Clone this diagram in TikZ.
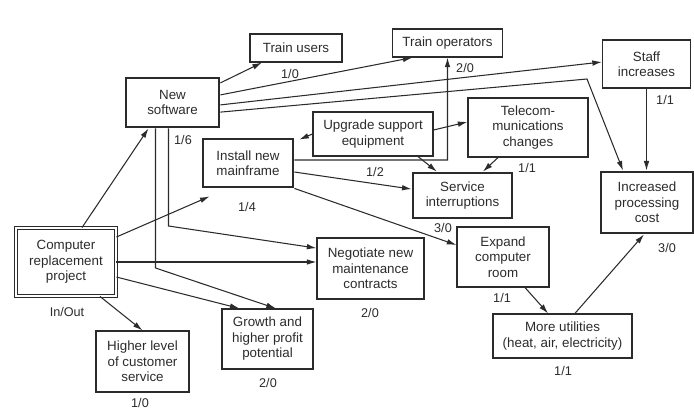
\documentclass[tikz,border=0pt]{standalone}
\usepackage{fontspec}
\setmainfont{Liberation Sans}
\usepackage{tikz}
\usetikzlibrary{positioning,arrows.meta}

\definecolor{inkgray}{HTML}{2B2B2B}

\tikzset{
  task/.style={draw=inkgray, line width=0.8pt, align=center, inner sep=1pt,
    font=\fontsize{9.5}{11}\selectfont, text=inkgray},
  keytask/.style={task, line width=2pt},
  roottask/.style={task, double, double distance=1.3pt, line width=0.6pt},
  tag/.style={font=\fontsize{9}{10}\selectfont, text=inkgray},
  link/.style={draw=inkgray, line width=0.75pt, -{Latex[length=2.4mm,width=1.4mm]}},
}

\begin{document}
\begin{tikzpicture}[x=0.025cm, y=-0.025cm]
\useasboundingbox (0,0) rectangle (694,409);

% activity boxes
\node[roottask, minimum width=2.5cm, minimum height=1.7cm] (proj) at (66,262) {Computer\\replacement\\project};
\node[keytask, minimum width=2.325cm, minimum height=1.225cm] (nsw) at (172.5,102.5) {New\\software};
\node[keytask, minimum width=2.25cm, minimum height=1.2cm] (inst) at (248,163) {Install new\\mainframe};
\node[keytask, minimum width=2.475cm, minimum height=1.125cm] (svc) at (462.5,195.5) {Service\\interruptions};
\node[keytask, minimum width=2.3cm, minimum height=1.525cm] (inc) at (647,202.5) {Increased\\processing\\cost};
\node[task, minimum width=2.3cm, minimum height=0.7cm] (tru) at (296,48) {Train users};
\node[task, minimum width=2.75cm, minimum height=0.7cm] (tro) at (447.5,43) {Train operators};
\node[task, minimum width=2.2cm, minimum height=1.2cm] (stf) at (646.5,64) {Staff\\increases};
\node[task, minimum width=3cm, minimum height=1.1cm] (upg) at (373,134) {Upgrade support\\equipment};
\node[task, minimum width=3cm, minimum height=1.475cm] (tel) at (528,127.5) {Telecom-\\munications\\changes};
\node[task, minimum width=2.675cm, minimum height=1.525cm] (neg) at (370.5,268.5) {Negotiate new\\maintenance\\contracts};
\node[task, minimum width=2.3cm, minimum height=1.5cm] (exp) at (503,257) {Expand\\computer\\room};
\node[task, minimum width=2.275cm, minimum height=1.5cm] (grow) at (267.5,339) {Growth and\\higher profit\\potential};
\node[task, minimum width=2.325cm, minimum height=1.525cm] (high) at (142.5,361.5) {Higher level\\of customer\\service};
\node[task, minimum width=3.475cm, minimum height=1.1cm] (util) at (562.5,336) {More utilities\\(heat, air, electricity)};

% in/out counts
\node[tag] (tProj) at (67,312) {In/Out};
\node[tag] (tNsw) at (183,140) {1/6};
\node[tag] (tInst) at (247,207) {1/4};
\node[tag] (tSvc) at (443,228) {3/0};
\node[tag] (tInc) at (667,248) {3/0};
\node[tag] (tTru) at (290,74) {1/0};
\node[tag] (tTro) at (465,68) {2/0};
\node[tag] (tStf) at (665,100) {1/1};
\node[tag] (tUpg) at (375,172) {1/2};
\node[tag] (tTel) at (527,168) {1/1};
\node[tag] (tNeg) at (370,313) {2/0};
\node[tag] (tExp) at (502,298) {1/1};
\node[tag] (tGrow) at (268,383) {2/0};
\node[tag] (tHigh) at (140,403) {1/0};
\node[tag] (tUtil) at (563,371) {1/1};

% bends
\coordinate (bendInc) at (587,79);
\coordinate (kneeGrow) at (155.5,268);
\coordinate (kneeNeg) at (168.5,226);
\coordinate (kneeTro) at (447.5,160);

% links
\draw[link] ([xshift=0.4cm]proj.north) -- ([xshift=-0.6cm]nsw.south);
\draw[link] ([yshift=0.625cm]proj.east) -- ([xshift=0.2cm,yshift=-0.2cm]inst.south west);
\draw[link] (proj.east) -- (proj.east -| neg.west);
\draw[link] ([yshift=-0.375cm]proj.east) -- ([xshift=-0.7cm]grow.north);
\draw[link] ([xshift=0.85cm]proj.south) -- (high.north);
\draw[link] ([yshift=0.49cm]nsw.east) -- ([xshift=-0.85cm]tru.south);
\draw[link] ([yshift=0.19cm]nsw.east) -- ([xshift=-0.875cm]tro.south);
\draw[link] ([yshift=-0.06cm]nsw.east) -- ([yshift=0.05cm]stf.west);
\draw[link] ([yshift=-0.24cm]nsw.east) -- (bendInc) -- ([xshift=-0.6cm]inc.north);
\draw[link] (nsw.south -| kneeGrow) -- (kneeGrow) -- ([xshift=0.21cm]grow.north);
\draw[link] (nsw.south -| kneeNeg) -- (kneeNeg) -- ([yshift=0.51cm]neg.west);
\draw[link] (upg.west) -- ([xshift=0.12cm,yshift=-0.05cm]inst.north east);
\draw[link] ([yshift=0.1cm]upg.east) -- ([yshift=0.14cm]tel.west);
\draw[link] ([yshift=0.075cm]inst.east) -- (kneeTro) -- (tro.south);
\draw[link] ([yshift=-0.225cm]inst.east) -- ([yshift=0.16cm]svc.west);
\draw[link] (inst.south east) -- ([yshift=0.3cm]exp.west);
\draw[link] ([xshift=1.125cm]upg.south) -- ([xshift=-0.64cm]svc.north);
\draw[link] ([xshift=-0.75cm]tel.south) -- ([xshift=0.51cm]svc.north);
\draw[link] (stf.south) -- (stf.south |- inc.north);
\draw[link] ([xshift=0.55cm]exp.south) -- ([xshift=-0.36cm]util.north);
\draw[link] ([xshift=0.31cm]util.north) -- ([xshift=-0.075cm]inc.south);
\end{tikzpicture}
\end{document}
